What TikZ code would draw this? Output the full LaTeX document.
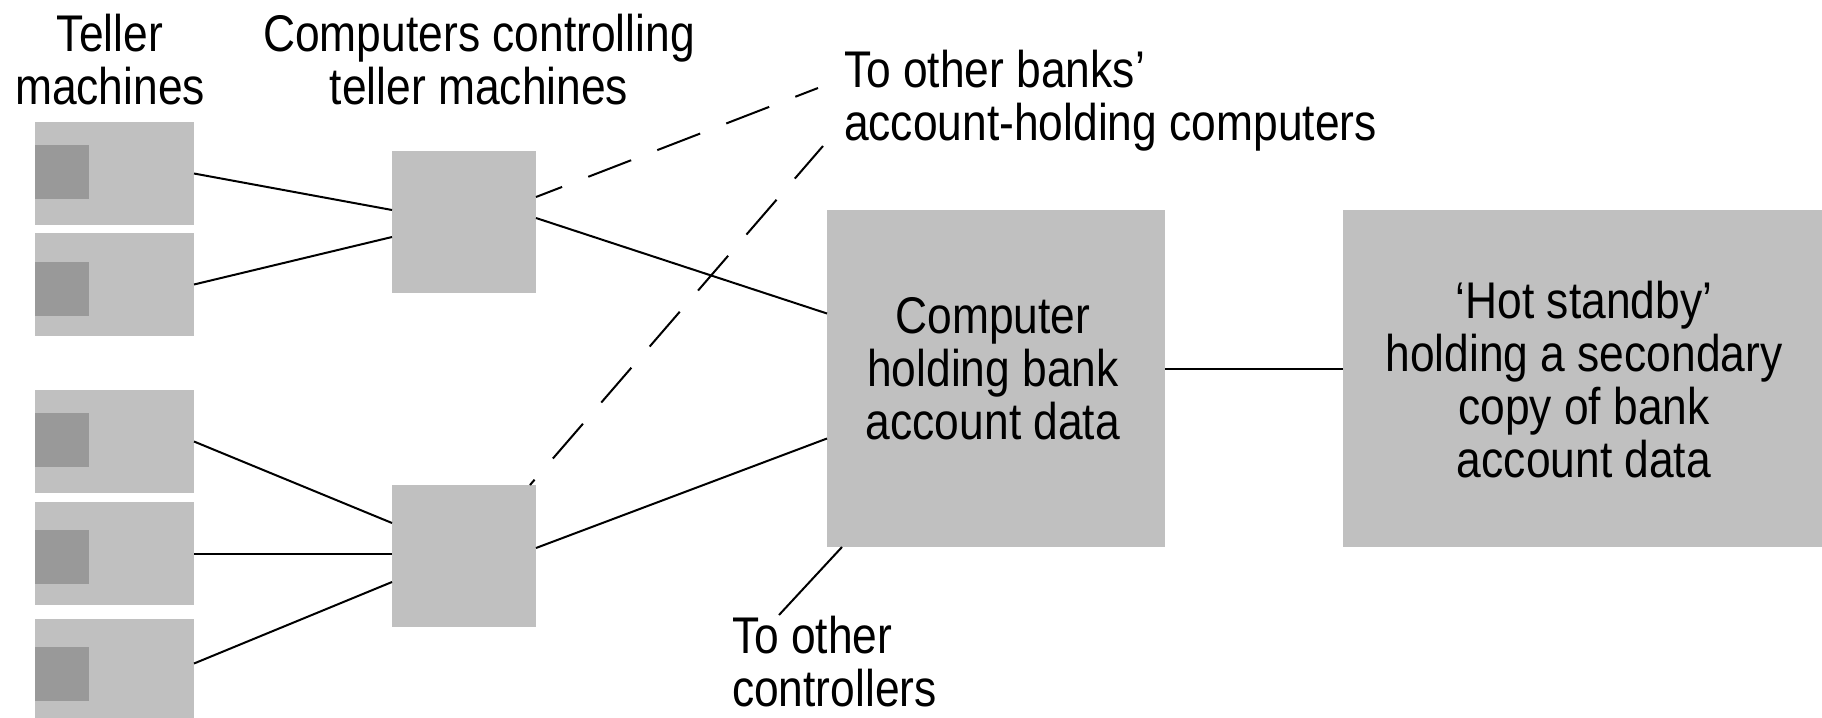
\documentclass[tikz,border=0pt]{standalone}
\usepackage{fontspec}
\setmainfont[FakeStretch=0.86]{Liberation Sans}
\usetikzlibrary{calc}
\definecolor{boxgray}{HTML}{C0C0C0}
\definecolor{screengray}{HTML}{999999}
\begin{document}
\begin{tikzpicture}[x=0.5pt,y=-0.5pt,
  every node/.style={inner sep=0pt,outer sep=0pt},
  gbox/.style={fill=boxgray,draw=none,anchor=north west,rectangle},
  tbox/.style={gbox,minimum width=79.5pt,minimum height=51.5pt},
  scr/.style={fill=screengray,draw=none,anchor=north west,rectangle,minimum width=27pt,minimum height=27pt},
  cbox/.style={gbox,minimum width=72pt,minimum height=71pt},
  lbl/.style={font=\fontsize{25.8}{26.5}\selectfont,text=black},
  conn/.style={draw=black,line width=1pt},
  dconn/.style={conn,dash pattern=on 23pt off 14pt}]
\useasboundingbox (0,0) rectangle (1822,718);
% teller machines
\node[tbox] (t1) at (35,122) {};
\node[tbox] (t2) at (35,233) {};
\node[tbox] (t3) at (35,390) {};
\node[tbox] (t4) at (35,502) {};
\node[tbox,minimum height=49.5pt] (t5) at (35,619) {};
\node[scr] (s1) at (35,145) {};
\node[scr] (s2) at (35,262) {};
\node[scr] (s3) at (35,413) {};
\node[scr] (s4) at (35,530) {};
\node[scr] (s5) at (35,647) {};
% controllers
\node[cbox] (c1) at (392,151) {};
\node[cbox] (c2) at (392,485) {};
% main computer and hot standby
\node[gbox,minimum width=169pt,minimum height=168.5pt] (m) at (827,210) {};
\node[gbox,minimum width=239.5pt,minimum height=168.5pt] (h) at (1343,210) {};
% free ends
\coordinate (bk1) at (818,88);
\coordinate (bk2) at (823,146);
\coordinate (oc) at (779,615);
% connectors
\draw[conn] (t1.east) -- ($(c1.west)+(0,-12)$);
\draw[conn] (t2.east) -- ($(c1.west)+(0,15)$);
\draw[conn] (t3.east) -- ($(c2.west)+(0,-33)$);
\draw[conn] (t4.east) -- (t4.east -| c2.west);
\draw[conn] ($(t5.east)+(0,-5)$) -- ($(c2.west)+(0,26)$);
\draw[conn] ($(c1.east)+(0,-4)$) -- ($(m.west)+(0,-65)$);
\draw[conn] ($(c2.east)+(0,-8)$) -- ($(m.west)+(0,60)$);
\draw[dconn,dash phase=9pt] ($(c1.east)+(0,-25)$) -- (bk1);
\draw[dconn,dash phase=19.5pt] ($(c2.north east)+(-6,0)$) -- (bk2);
\draw[conn] ($(m.east)+(0,-9.5)$) -- ($(h.west)+(0,-9.5)$);
\draw[conn] ($(m.south west)+(15,0)$) -- (oc);
% labels
\node[lbl,anchor=base] (ltell) at (110,51) {\begin{tabular}[t]{@{}c@{}}Teller\\machines\end{tabular}};
\node[lbl,anchor=base] (lctrl) at (479,51) {\begin{tabular}[t]{@{}c@{}}Computers controlling\\teller machines\end{tabular}};
\node[lbl,anchor=base west] (lbank) at (844,87) {\begin{tabular}[t]{@{}l@{}}To other banks’\\account-holding computers\end{tabular}};
\node[lbl,anchor=base west] (lother) at (732,653) {\begin{tabular}[t]{@{}l@{}}To other\\controllers\end{tabular}};
\node[lbl,anchor=base] (lmain) at (993,333) {\begin{tabular}[t]{@{}c@{}}Computer\\holding bank\\account data\end{tabular}};
\node[lbl,anchor=base] (lhot) at (1584,318) {\begin{tabular}[t]{@{}c@{}}‘Hot standby’\\holding a secondary\\copy of bank\\account data\end{tabular}};
\end{tikzpicture}
\end{document}
